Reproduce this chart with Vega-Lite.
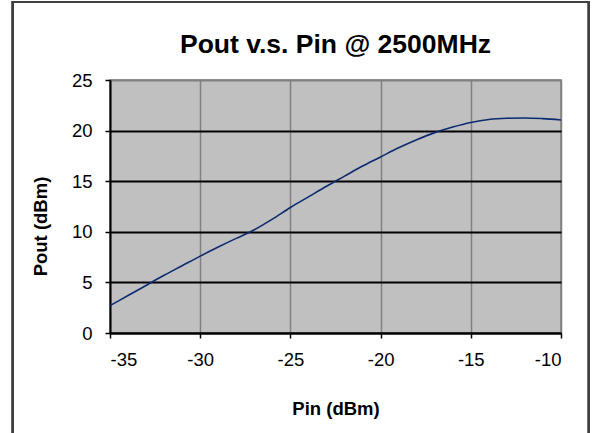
{
  "$schema": "https://vega.github.io/schema/vega-lite/v6.json",
  "autosize": "none",
  "width": 451,
  "height": 253,
  "padding": {"left": 110, "top": 80, "right": 33, "bottom": 100},
  "background": "white",
  "title": {
    "text": "Pout v.s. Pin @ 2500MHz",
    "font": "Liberation Sans",
    "fontSize": 26.5,
    "fontWeight": "bold",
    "color": "black",
    "anchor": "middle",
    "frame": "group",
    "baseline": "alphabetic",
    "offset": 0,
    "dy": 78
  },
  "config": {
    "view": {"fill": "#C0C0C0", "stroke": "#808080", "strokeWidth": 1.5},
    "axis": {
      "labelFont": "Liberation Sans",
      "labelFontSize": 18.5,
      "labelColor": "black",
      "labelExpr": "'' + datum.value",
      "titleFont": "Liberation Sans",
      "titleFontSize": 18.5,
      "titleFontWeight": "bold",
      "titleColor": "black",
      "domainColor": "black",
      "domainWidth": 2,
      "tickColor": "black",
      "tickWidth": 1.5,
      "tickSize": 5
    }
  },
  "data": {
    "values": [
      {"pin": -35, "pout": 2.7},
      {"pin": -34, "pout": 3.7},
      {"pin": -33, "pout": 4.7},
      {"pin": -32, "pout": 5.7},
      {"pin": -31, "pout": 6.65},
      {"pin": -30, "pout": 7.6},
      {"pin": -29, "pout": 8.5},
      {"pin": -28, "pout": 9.35},
      {"pin": -27.5, "pout": 9.75},
      {"pin": -27, "pout": 10.2},
      {"pin": -26, "pout": 11.25},
      {"pin": -25, "pout": 12.4},
      {"pin": -24, "pout": 13.45},
      {"pin": -23, "pout": 14.5},
      {"pin": -22, "pout": 15.5},
      {"pin": -21, "pout": 16.5},
      {"pin": -20, "pout": 17.4},
      {"pin": -19, "pout": 18.3},
      {"pin": -18, "pout": 19.1},
      {"pin": -17, "pout": 19.8},
      {"pin": -16, "pout": 20.35},
      {"pin": -15, "pout": 20.8},
      {"pin": -14, "pout": 21.1},
      {"pin": -13, "pout": 21.22},
      {"pin": -12, "pout": 21.25},
      {"pin": -11, "pout": 21.18},
      {"pin": -10, "pout": 21.05}
    ]
  },
  "layer": [
    {
      "mark": {"type": "line", "color": "#0B2A6F", "strokeWidth": 1.6, "interpolate": "monotone"},
      "encoding": {
        "x": {
          "field": "pin",
          "type": "quantitative",
          "scale": {"domain": [-35, -10], "nice": false, "zero": false},
          "axis": {
            "title": "Pin (dBm)",
            "values": [-35, -30, -25, -20, -15, -10],
            "grid": true,
            "gridColor": "#808080",
            "gridWidth": 1.5,
            "labelPadding": 12,
            "titlePadding": 31
          }
        },
        "y": {
          "field": "pout",
          "type": "quantitative",
          "scale": {"domain": [0, 25], "nice": false},
          "axis": {
            "title": "Pout (dBm)",
            "values": [0, 5, 10, 15, 20, 25],
            "grid": true,
            "gridColor": {"condition": {"test": "datum.value === 25", "value": "#808080"}, "value": "black"},
            "gridWidth": 1.8,
            "labelPadding": 13,
            "titlePadding": 21,
            "titleY": 146
          }
        }
      }
    },
    {
      "mark": {"type": "rect", "fill": null, "fillOpacity": 0, "stroke": "#404040", "strokeWidth": 2, "clip": false},
      "encoding": {
        "x": {"datum": -40.38, "type": "quantitative"},
        "x2": {"datum": -8.45},
        "y": {"datum": 32.7, "type": "quantitative"},
        "y2": {"datum": -11}
      }
    }
  ]
}
